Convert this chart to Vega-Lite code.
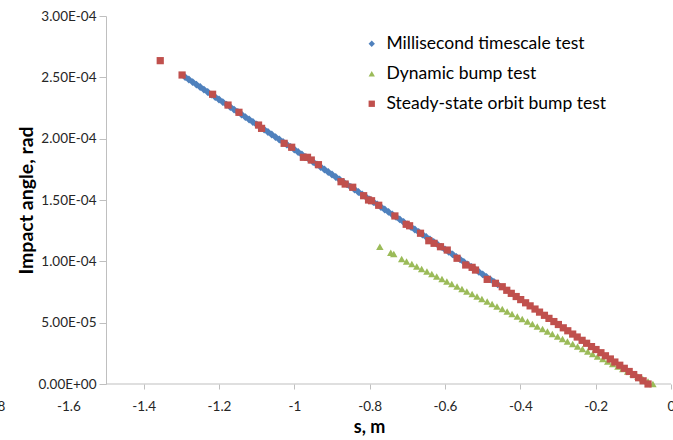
{
  "$schema": "https://vega.github.io/schema/vega-lite/v6.json",
  "width": 678,
  "height": 368,
  "autosize": "none",
  "padding": {"left": -7, "top": 16, "right": 2, "bottom": 56},
  "background": "white",
  "config": {"view": {"stroke": null}, "font": "Lato"},
  "datasets": {
    "axisline": [{"s": -1.5, "s2": 0, "y": 0}],
    "ms": [
      {"s": -1.29, "y": 2.502e-4}, {"s": -1.28, "y": 2.482e-4}, {"s": -1.27, "y": 2.461e-4}, {"s": -1.26, "y": 2.441e-4},
      {"s": -1.25, "y": 2.421e-4}, {"s": -1.24, "y": 2.400e-4}, {"s": -1.23, "y": 2.380e-4}, {"s": -1.22, "y": 2.359e-4},
      {"s": -1.21, "y": 2.339e-4}, {"s": -1.20, "y": 2.319e-4}, {"s": -1.19, "y": 2.298e-4}, {"s": -1.18, "y": 2.278e-4},
      {"s": -1.17, "y": 2.258e-4}, {"s": -1.16, "y": 2.237e-4}, {"s": -1.15, "y": 2.217e-4}, {"s": -1.14, "y": 2.197e-4},
      {"s": -1.13, "y": 2.176e-4}, {"s": -1.12, "y": 2.156e-4}, {"s": -1.11, "y": 2.136e-4}, {"s": -1.10, "y": 2.115e-4},
      {"s": -1.09, "y": 2.095e-4}, {"s": -1.08, "y": 2.074e-4}, {"s": -1.07, "y": 2.054e-4}, {"s": -1.06, "y": 2.034e-4},
      {"s": -1.05, "y": 2.013e-4}, {"s": -1.04, "y": 1.993e-4}, {"s": -1.03, "y": 1.973e-4}, {"s": -1.02, "y": 1.952e-4},
      {"s": -1.01, "y": 1.932e-4}, {"s": -1.00, "y": 1.912e-4}, {"s": -0.99, "y": 1.891e-4}, {"s": -0.98, "y": 1.871e-4},
      {"s": -0.97, "y": 1.850e-4}, {"s": -0.96, "y": 1.830e-4}, {"s": -0.95, "y": 1.810e-4}, {"s": -0.94, "y": 1.789e-4},
      {"s": -0.93, "y": 1.769e-4}, {"s": -0.92, "y": 1.749e-4}, {"s": -0.91, "y": 1.728e-4}, {"s": -0.90, "y": 1.708e-4},
      {"s": -0.89, "y": 1.688e-4}, {"s": -0.88, "y": 1.667e-4}, {"s": -0.87, "y": 1.647e-4}, {"s": -0.86, "y": 1.627e-4},
      {"s": -0.85, "y": 1.606e-4}, {"s": -0.84, "y": 1.586e-4}, {"s": -0.83, "y": 1.565e-4}, {"s": -0.82, "y": 1.545e-4},
      {"s": -0.81, "y": 1.525e-4}, {"s": -0.80, "y": 1.504e-4}, {"s": -0.79, "y": 1.484e-4}, {"s": -0.78, "y": 1.464e-4},
      {"s": -0.77, "y": 1.443e-4}, {"s": -0.76, "y": 1.423e-4}, {"s": -0.75, "y": 1.403e-4}, {"s": -0.74, "y": 1.382e-4},
      {"s": -0.73, "y": 1.362e-4}, {"s": -0.72, "y": 1.342e-4}, {"s": -0.71, "y": 1.321e-4}, {"s": -0.70, "y": 1.301e-4},
      {"s": -0.69, "y": 1.280e-4}, {"s": -0.68, "y": 1.260e-4}, {"s": -0.67, "y": 1.240e-4}, {"s": -0.66, "y": 1.219e-4},
      {"s": -0.65, "y": 1.199e-4}, {"s": -0.64, "y": 1.179e-4}, {"s": -0.63, "y": 1.158e-4}, {"s": -0.62, "y": 1.138e-4},
      {"s": -0.61, "y": 1.118e-4}, {"s": -0.60, "y": 1.097e-4}, {"s": -0.59, "y": 1.077e-4}, {"s": -0.58, "y": 1.057e-4},
      {"s": -0.57, "y": 1.036e-4}, {"s": -0.56, "y": 1.016e-4}, {"s": -0.55, "y": 0.995e-4}, {"s": -0.54, "y": 0.975e-4},
      {"s": -0.53, "y": 0.955e-4}, {"s": -0.52, "y": 0.934e-4}, {"s": -0.51, "y": 0.914e-4}, {"s": -0.50, "y": 0.894e-4},
      {"s": -0.49, "y": 0.873e-4}, {"s": -0.48, "y": 0.853e-4}, {"s": -0.47, "y": 0.833e-4}, {"s": -0.46, "y": 0.812e-4}
    ],
    "dyn": [
      {"s": -0.773, "y": 1.119e-4}, {"s": -0.744, "y": 1.070e-4}, {"s": -0.736, "y": 1.060e-4},
      {"s": -0.715, "y": 1.019e-4}, {"s": -0.702, "y": 0.999e-4}, {"s": -0.688, "y": 0.978e-4}, {"s": -0.675, "y": 0.958e-4},
      {"s": -0.662, "y": 0.937e-4}, {"s": -0.648, "y": 0.917e-4}, {"s": -0.635, "y": 0.897e-4}, {"s": -0.622, "y": 0.876e-4},
      {"s": -0.608, "y": 0.856e-4}, {"s": -0.595, "y": 0.836e-4}, {"s": -0.582, "y": 0.815e-4}, {"s": -0.568, "y": 0.795e-4},
      {"s": -0.555, "y": 0.774e-4}, {"s": -0.542, "y": 0.754e-4}, {"s": -0.528, "y": 0.734e-4}, {"s": -0.515, "y": 0.713e-4},
      {"s": -0.502, "y": 0.693e-4}, {"s": -0.488, "y": 0.673e-4}, {"s": -0.475, "y": 0.652e-4}, {"s": -0.462, "y": 0.632e-4},
      {"s": -0.448, "y": 0.611e-4}, {"s": -0.435, "y": 0.591e-4}, {"s": -0.422, "y": 0.571e-4}, {"s": -0.408, "y": 0.550e-4},
      {"s": -0.395, "y": 0.530e-4}, {"s": -0.381, "y": 0.510e-4}, {"s": -0.368, "y": 0.489e-4}, {"s": -0.355, "y": 0.469e-4},
      {"s": -0.341, "y": 0.448e-4}, {"s": -0.328, "y": 0.428e-4}, {"s": -0.315, "y": 0.408e-4}, {"s": -0.301, "y": 0.387e-4},
      {"s": -0.288, "y": 0.367e-4}, {"s": -0.275, "y": 0.347e-4}, {"s": -0.261, "y": 0.326e-4}, {"s": -0.248, "y": 0.306e-4},
      {"s": -0.235, "y": 0.285e-4}, {"s": -0.221, "y": 0.265e-4}, {"s": -0.208, "y": 0.245e-4}, {"s": -0.195, "y": 0.224e-4},
      {"s": -0.181, "y": 0.204e-4}, {"s": -0.168, "y": 0.183e-4}, {"s": -0.155, "y": 0.163e-4}, {"s": -0.141, "y": 0.143e-4},
      {"s": -0.128, "y": 0.122e-4}, {"s": -0.115, "y": 0.102e-4}, {"s": -0.101, "y": 0.082e-4}, {"s": -0.088, "y": 0.061e-4},
      {"s": -0.075, "y": 0.041e-4}, {"s": -0.061, "y": 0.020e-4}, {"s": -0.048, "y": 0.000}
    ],
    "ss": [
      {"s": -1.356, "y": 2.636e-4}, {"s": -1.298, "y": 2.519e-4}, {"s": -1.217, "y": 2.362e-4}, {"s": -1.176, "y": 2.274e-4},
      {"s": -1.147, "y": 2.215e-4}, {"s": -1.095, "y": 2.111e-4}, {"s": -1.087, "y": 2.084e-4}, {"s": -1.027, "y": 1.962e-4},
      {"s": -1.007, "y": 1.930e-4}, {"s": -0.976, "y": 1.848e-4}, {"s": -0.965, "y": 1.848e-4}, {"s": -0.955, "y": 1.826e-4},
      {"s": -0.936, "y": 1.788e-4}, {"s": -0.876, "y": 1.649e-4}, {"s": -0.865, "y": 1.630e-4}, {"s": -0.845, "y": 1.604e-4},
      {"s": -0.816, "y": 1.535e-4}, {"s": -0.803, "y": 1.500e-4}, {"s": -0.795, "y": 1.494e-4}, {"s": -0.776, "y": 1.457e-4},
      {"s": -0.733, "y": 1.370e-4}, {"s": -0.703, "y": 1.302e-4}, {"s": -0.694, "y": 1.290e-4}, {"s": -0.665, "y": 1.229e-4},
      {"s": -0.643, "y": 1.168e-4}, {"s": -0.629, "y": 1.147e-4}, {"s": -0.612, "y": 1.119e-4}, {"s": -0.594, "y": 1.092e-4},
      {"s": -0.568, "y": 1.025e-4}, {"s": -0.545, "y": 0.970e-4}, {"s": -0.528, "y": 0.951e-4}, {"s": -0.519, "y": 0.929e-4},
      {"s": -0.488, "y": 0.853e-4}, {"s": -0.466, "y": 0.821e-4}, {"s": -0.448, "y": 0.793e-4},
      {"s": -0.436, "y": 0.764e-4}, {"s": -0.424, "y": 0.739e-4}, {"s": -0.411, "y": 0.713e-4}, {"s": -0.399, "y": 0.688e-4},
      {"s": -0.386, "y": 0.662e-4}, {"s": -0.374, "y": 0.637e-4}, {"s": -0.361, "y": 0.611e-4}, {"s": -0.349, "y": 0.586e-4},
      {"s": -0.336, "y": 0.560e-4}, {"s": -0.324, "y": 0.535e-4}, {"s": -0.311, "y": 0.509e-4}, {"s": -0.299, "y": 0.485e-4},
      {"s": -0.286, "y": 0.458e-4}, {"s": -0.274, "y": 0.434e-4}, {"s": -0.261, "y": 0.407e-4}, {"s": -0.249, "y": 0.383e-4},
      {"s": -0.236, "y": 0.356e-4}, {"s": -0.224, "y": 0.332e-4}, {"s": -0.211, "y": 0.305e-4}, {"s": -0.199, "y": 0.281e-4},
      {"s": -0.186, "y": 0.255e-4}, {"s": -0.174, "y": 0.230e-4}, {"s": -0.161, "y": 0.204e-4}, {"s": -0.149, "y": 0.179e-4},
      {"s": -0.136, "y": 0.153e-4}, {"s": -0.124, "y": 0.128e-4}, {"s": -0.111, "y": 0.102e-4}, {"s": -0.099, "y": 0.077e-4},
      {"s": -0.086, "y": 0.051e-4}, {"s": -0.074, "y": 0.026e-4}, {"s": -0.061, "y": 0.000}
    ]
  },
  "encoding": {
    "x": {
      "field": "s", "type": "quantitative",
      "scale": {"domain": [-1.8, 0], "nice": false, "zero": false},
      "axis": {
        "title": "s, m",
        "titleX": 376,
        "values": [-1.8, -1.6, -1.4, -1.2, -1, -0.8, -0.6, -0.4, -0.2, 0],
        "labelExpr": "'' + datum.value",
        "domain": false, "grid": false,
        "tickSize": 5,
        "tickColor": {"condition": {"test": "datum.value < -1.5", "value": "transparent"}, "value": "#bfbfbf"},
        "labelFlush": false, "labelOverlap": false,
        "labelFont": "Lato", "labelFontSize": 13.5, "labelColor": "#262626", "labelPadding": 10,
        "titleFont": "Lato", "titleFontSize": 18, "titleFontWeight": "bold", "titleColor": "#000000", "titlePadding": 6
      }
    },
    "y": {
      "field": "y", "type": "quantitative",
      "scale": {"domain": [0, 0.0003], "nice": false, "zero": true},
      "axis": {
        "title": "Impact angle, rad",
        "offset": -113,
        "values": [0, 0.00005, 0.0001, 0.00015, 0.0002, 0.00025, 0.0003],
        "labelExpr": "datum.value == 0 ? '0.00E+00' : (datum.value < 0.0000999 ? format(datum.value * 100000, '.2f') + 'E-05' : format(datum.value * 10000, '.2f') + 'E-04')",
        "grid": false,
        "domainColor": "#bfbfbf", "tickColor": "#bfbfbf", "tickSize": 7,
        "labelFlush": false, "labelOverlap": false,
        "labelFont": "Lato", "labelFontSize": 13.5, "labelColor": "#262626", "labelPadding": 3,
        "titleFont": "Lato", "titleFontSize": 19.5, "titleFontWeight": "bold", "titleColor": "#000000", "titlePadding": 2
      }
    }
  },
  "layer": [
    {
      "data": {"name": "axisline"},
      "mark": {"type": "rule", "color": "#bfbfbf", "strokeWidth": 1},
      "encoding": {"x2": {"field": "s2"}}
    },
    {
      "data": {"name": "ms"},
      "mark": {"type": "point", "filled": true, "opacity": 1, "size": 62, "strokeWidth": 0},
      "encoding": {
        "color": {"datum": "Millisecond timescale test"},
        "shape": {"datum": "Millisecond timescale test"}
      }
    },
    {
      "data": {"name": "dyn"},
      "mark": {"type": "point", "filled": true, "opacity": 1, "size": 55, "strokeWidth": 0},
      "encoding": {
        "color": {"datum": "Dynamic bump test"},
        "shape": {"datum": "Dynamic bump test"}
      }
    },
    {
      "data": {"name": "ss"},
      "mark": {"type": "point", "filled": true, "opacity": 1, "size": 52, "strokeWidth": 0},
      "encoding": {
        "color": {
          "datum": "Steady-state orbit bump test",
          "type": "nominal",
          "scale": {"domain": ["Millisecond timescale test", "Dynamic bump test", "Steady-state orbit bump test"], "range": ["#4F81BD", "#9BBB59", "#C0504D"]},
          "legend": {
            "title": null, "orient": "none", "legendX": 370, "legendY": 19,
            "labelFont": "Lato", "labelFontSize": 17.5, "labelColor": "#000000", "labelLimit": 0,
            "symbolSize": 40, "symbolStrokeWidth": 0, "symbolType": "square",
            "rowPadding": 11, "labelOffset": 6, "padding": 0
          }
        },
        "shape": {
          "datum": "Steady-state orbit bump test",
          "type": "nominal",
          "scale": {"domain": ["Millisecond timescale test", "Dynamic bump test", "Steady-state orbit bump test"], "range": ["diamond", "triangle-up", "square"]}
        }
      }
    }
  ]
}
